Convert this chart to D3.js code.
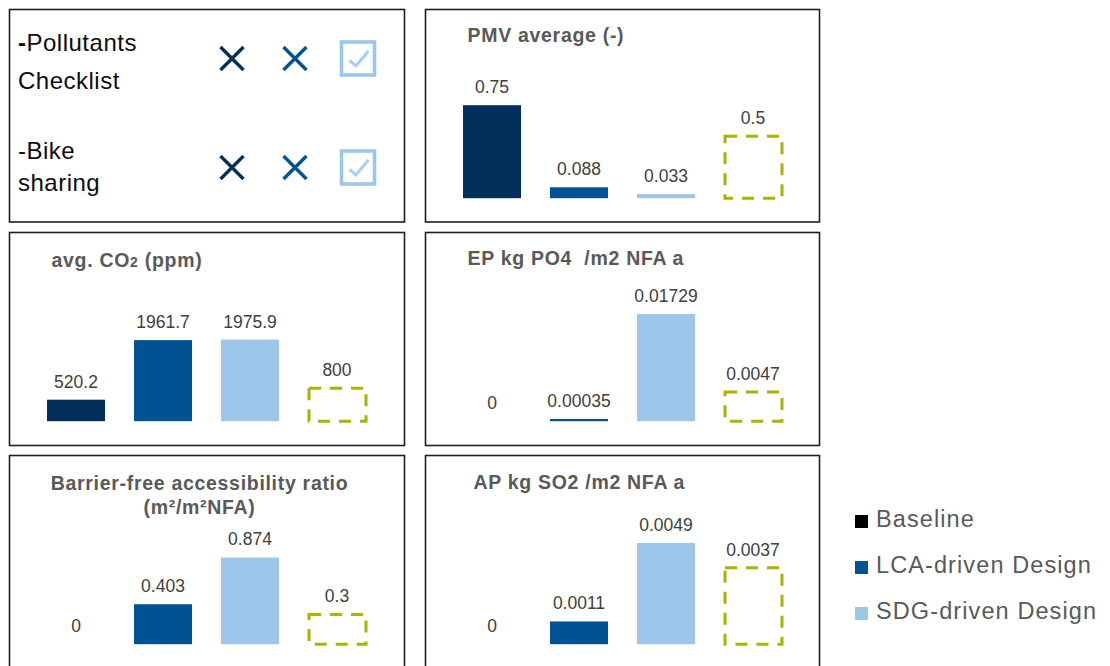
<!DOCTYPE html>
<html>
<head>
<meta charset="utf-8">
<script src="https://cdn.jsdelivr.net/npm/d3@7/dist/d3.min.js"></script>
<style>
  html, body { margin: 0; padding: 0; background: #fff; }
  svg { display: block; font-family: "Liberation Sans", Arial, sans-serif; }
</style>
</head>
<body>
<svg id="chart" width="1110" height="666"></svg>
<script>
// ---- data ----
const series = ["Baseline", "LCA-driven Design", "SDG-driven Design"];
const targetKey = "Target";

const checklistItems = [["-Pollutants", "Checklist"], ["-Bike", "sharing"]];
const checklistStatus = [[false, false, true], [false, false, true]];

const panelTitles = [
  ["PMV average (-)"],
  ["avg. CO2 (ppm)"],
  ["EP kg PO4  /m2 NFA a"],
  ["Barrier-free accessibility ratio", "(m²/m²NFA)"],
  ["AP kg SO2 /m2 NFA a"]
];
const pmvValues = [0.75, 0.088, 0.033];
const co2Values = [520.2, 1961.7, 1975.9];
const epValues = [0, 0.00035, 0.01729];
const barrierValues = [0, 0.403, 0.874];
const apValues = [0, 0.0011, 0.0049];
const targetValues = [0.5, 800, 0.0047, 0.3, 0.0037];
const axisMax = [1.0, 3000, 0.02, 1.25, 0.006];
const panelValues = [pmvValues, co2Values, epValues, barrierValues, apValues];

// ---- styles ----
const seriesColors = ["#02305a", "#005293", "#9cc6ea"];
const legendColors = ["#000000", "#005293", "#9cc6ea"];
const targetColor = "#a8b400";
const titleColor = "#595959";
const labelColor = "#404040";

const svg = d3.select("#chart");
svg.append("rect").attr("width", 1110).attr("height", 666).attr("fill", "#fff");

// panel frames: [left, top, width, height]
const frames = [
  [9.5, 9.5, 395, 212.5],     // checklist
  [425.5, 9.5, 394, 212.5],   // PMV
  [9.5, 232.5, 395, 213],     // CO2
  [425.5, 232.5, 394, 213],   // EP
  [9.5, 455.5, 395, 230],     // barrier-free
  [425.5, 455.5, 394, 230]    // AP
];
frames.forEach(f => {
  svg.append("rect")
    .attr("x", f[0]).attr("y", f[1]).attr("width", f[2]).attr("height", f[3])
    .attr("fill", "none").attr("stroke", "#1f1f1f").attr("stroke-width", 1.6);
});

// ---- checklist panel ----
const chk = svg.append("g");
const rowY = d3.scalePoint().domain(d3.range(checklistItems.length)).range([58.5, 167.5]);
const colX = d3.scalePoint().domain(series).range([232, 358]);
const textBaselines = [[51, 89], [159, 191]];

checklistItems.forEach((lines, i) => {
  lines.forEach((ln, j) => {
    const t = chk.append("text")
      .attr("x", 18).attr("y", textBaselines[i][j])
      .attr("font-size", 24).attr("letter-spacing", 0.5)
      .attr("fill", "#0d0d0d");
    if (i === 0 && j === 0) {
      t.append("tspan").attr("font-weight", "bold").text(ln.slice(0, 1));
      t.append("tspan").text(ln.slice(1));
    } else {
      t.text(ln);
    }
  });
  checklistStatus[i].forEach((ok, k) => {
    const cx = colX(series[k]);
    const cy = rowY(i);
    const g = chk.append("g").attr("transform", `translate(${cx},${cy})`);
    if (ok) {
      g.append("rect").attr("x", -16.5).attr("y", -16.5).attr("width", 33).attr("height", 33)
        .attr("fill", "none").attr("stroke", seriesColors[k]).attr("stroke-width", 3.6);
      g.append("path").attr("d", "M-8.5,2 L-2,7.5 L10.5,-7.5")
        .attr("fill", "none").attr("stroke", "#a9cff0").attr("stroke-width", 3);
    } else {
      g.append("path").attr("d", "M-11.5,-11.5 L11.5,11.5 M11.5,-11.5 L-11.5,11.5")
        .attr("fill", "none").attr("stroke", seriesColors[k]).attr("stroke-width", 3.4);
    }
  });
});

// ---- bar panels ----
const titleLayout = [
  { x: 42, y: 32.5, anchor: "start" },
  { x: 42, y: 34, anchor: "start" },
  { x: 42, y: 32, anchor: "start" },
  { x: 190, y: 34, anchor: "middle", lineGap: 24 },
  { x: 48, y: 33, anchor: "start" }
];
const plotHeight = 124;
const baseOffset = 188.7;
const keys = series.concat([targetKey]);

panelValues.forEach((vals, p) => {
  const f = frames[p + 1];
  const left = f[0], top = f[1];
  const g = svg.append("g");

  const x = d3.scaleBand().domain(keys)
    .range([left + 23, left + 371])
    .paddingInner(1 / 3).paddingOuter(1 / 6);
  const y = d3.scaleLinear().domain([0, axisMax[p]])
    .range([top + baseOffset, top + baseOffset - plotHeight]);

  // title
  const tl = titleLayout[p];
  panelTitles[p].forEach((line, j) => {
    const t = g.append("text")
      .attr("x", left + tl.x).attr("y", top + tl.y + j * (tl.lineGap || 0))
      .attr("text-anchor", tl.anchor)
      .attr("font-size", 19.5).attr("font-weight", "bold")
      .attr("letter-spacing", 0.7)
      .attr("fill", titleColor)
      .style("white-space", "pre");
    if (line.includes("CO2")) {
      const idx = line.indexOf("CO2") + 2;
      t.append("tspan").text(line.slice(0, idx));
      t.append("tspan").attr("font-size", 14).text("2");
      t.append("tspan").text(line.slice(idx + 1));
    } else {
      t.text(line);
    }
  });

  // bars
  g.selectAll("rect.bar").data(vals).join("rect")
    .attr("class", "bar")
    .attr("x", (d, i) => x(series[i]))
    .attr("width", x.bandwidth())
    .attr("y", d => y(d))
    .attr("height", d => y(0) - y(d))
    .attr("fill", (d, i) => seriesColors[i]);

  // target outline
  const tv = targetValues[p];
  g.append("rect")
    .attr("x", x(targetKey) + 1).attr("width", x.bandwidth() - 1)
    .attr("y", y(tv)).attr("height", y(0) - y(tv))
    .attr("fill", "none").attr("stroke", targetColor)
    .attr("stroke-width", 3).attr("stroke-dasharray", "12,9");

  // value labels
  const labelled = vals.map((v, i) => ({ key: series[i], v }))
    .concat([{ key: targetKey, v: tv }]);
  g.selectAll("text.val").data(labelled).join("text")
    .attr("class", "val")
    .attr("x", d => x(d.key) + x.bandwidth() / 2)
    .attr("y", d => y(d.v) - 12)
    .attr("text-anchor", "middle")
    .attr("font-size", 17.5)
    .attr("fill", labelColor)
    .text(d => String(d.v));
});

// ---- legend ----
const legendY = d3.scalePoint().domain(series).range([527, 619]);
const legend = svg.append("g");
series.forEach((s, i) => {
  legend.append("rect")
    .attr("x", 855).attr("y", legendY(s) - 12)
    .attr("width", 13).attr("height", 13)
    .attr("fill", legendColors[i]);
  legend.append("text")
    .attr("x", 876).attr("y", legendY(s))
    .attr("font-size", 23.5).attr("letter-spacing", 1.1)
    .attr("fill", titleColor)
    .text(s);
});
</script>
</body>
</html>
